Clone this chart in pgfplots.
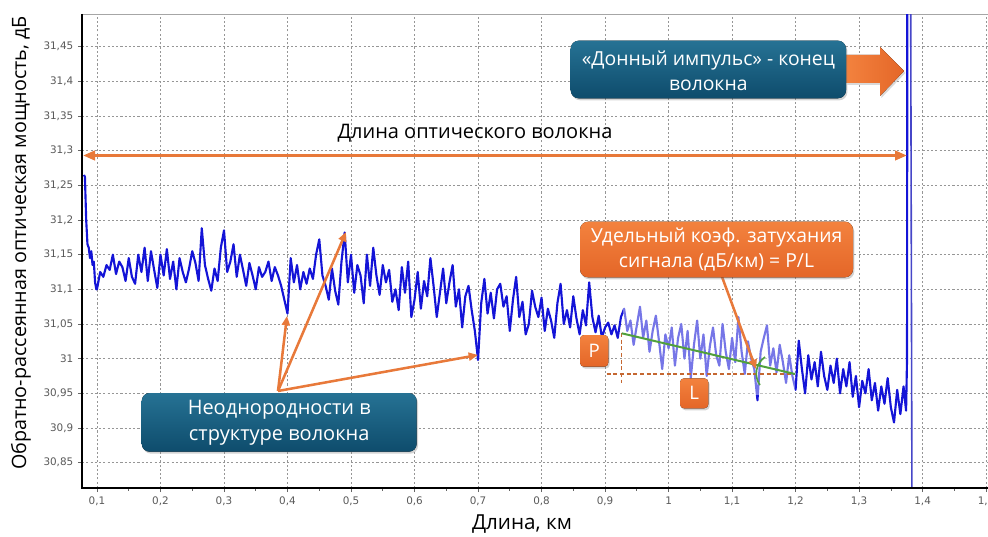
\documentclass[border=0pt]{standalone}
\usepackage{fontspec}
\setmainfont{Open Sans}
\newfontfamily\tickfont{DejaVu Sans}
\usepackage{pgfplots}
\pgfplotsset{compat=1.18}
\usetikzlibrary{arrows.meta,shadows}

\definecolor{trace}{RGB}{20,20,215}
\definecolor{vline}{RGB}{70,70,200}
\definecolor{orng}{RGB}{232,121,58}
\definecolor{orngT}{RGB}{243,130,62}
\definecolor{orngB}{RGB}{228,102,40}
\definecolor{tealT}{RGB}{38,114,148}
\definecolor{tealB}{RGB}{14,76,108}
\definecolor{grn}{RGB}{80,160,60}
\definecolor{gridc}{RGB}{150,150,150}

\begin{document}
\begin{tikzpicture}
\useasboundingbox (0,0) rectangle (741pt,402pt);
\begin{axis}[
  at={(61.5pt,36pt)}, anchor=south west,
  width=679.5pt, height=355.5pt, scale only axis,
  xmin=0.0764, xmax=1.503, ymin=30.8135, ymax=31.497,
  axis line style={draw=gray!70, line width=0.6pt},
  xtick={0.1,0.2,0.3,0.4,0.5,0.6,0.7,0.8,0.9,1.0,1.1,1.2,1.3,1.4,1.5},
  xticklabels={{0,1},{0,2},{0,3},{0,4},{0,5},{0,6},{0,7},{0,8},{0,9},{1},{1,1},{1,2},{1,3},{1,4},{1,5}},
  ytick={30.85,30.9,30.95,31,31.05,31.1,31.15,31.2,31.25,31.3,31.35,31.4,31.45},
  yticklabels={{30,85},{30,9},{30,95},{31},{31,05},{31,1},{31,15},{31,2},{31,25},{31,3},{31,35},{31,4},{31,45}},
  tick label style={font=\tickfont\fontsize{7.8}{9}\selectfont, text=black!65},
  xtick pos=bottom, ytick pos=left, tick align=outside,
  major tick length=3pt, tick style={black!60, line width=0.5pt},
  xminorticks=true, minor x tick num=1, minor tick length=2pt,
  grid=major,
  major grid style={gridc, dash pattern=on 1.6pt off 1.6pt, line width=0.6pt},
  clip=true,
]
\addplot[trace, line width=1.6pt, line join=round] coordinates {
(0.0795,31.265) (0.0810,31.262) (0.0830,31.200) (0.0850,31.165) (0.0870,31.160)
(0.0890,31.145) (0.0910,31.155) (0.0930,31.135) (0.0950,31.140) (0.0970,31.110)
(0.0990,31.100) (0.100,31.100) (0.105,31.125) (0.110,31.118) (0.115,31.135)
(0.120,31.128) (0.125,31.150) (0.130,31.122) (0.135,31.140) (0.140,31.132)
(0.145,31.112) (0.150,31.145) (0.155,31.118) (0.160,31.108) (0.165,31.150)
(0.170,31.125) (0.175,31.160) (0.180,31.112) (0.185,31.155) (0.190,31.128)
(0.195,31.102) (0.200,31.150) (0.205,31.120) (0.210,31.158) (0.215,31.115)
(0.220,31.140) (0.225,31.100) (0.230,31.145) (0.235,31.125) (0.240,31.110)
(0.245,31.130) (0.250,31.155) (0.255,31.138) (0.260,31.112) (0.265,31.188)
(0.270,31.135) (0.275,31.115) (0.280,31.098) (0.285,31.130) (0.290,31.112)
(0.295,31.160) (0.300,31.185) (0.305,31.125) (0.310,31.140) (0.315,31.165)
(0.320,31.118) (0.325,31.150) (0.330,31.128) (0.335,31.105) (0.340,31.138)
(0.345,31.120) (0.350,31.100) (0.355,31.132) (0.360,31.118) (0.365,31.125)
(0.370,31.140) (0.375,31.112) (0.380,31.132) (0.385,31.120) (0.390,31.105)
(0.395,31.085) (0.400,31.065) (0.405,31.145) (0.410,31.110) (0.415,31.135)
(0.420,31.100) (0.425,31.125) (0.430,31.108) (0.435,31.130) (0.440,31.115)
(0.445,31.150) (0.450,31.172) (0.455,31.120) (0.460,31.105) (0.465,31.085)
(0.470,31.130) (0.475,31.098) (0.480,31.078) (0.485,31.140) (0.490,31.182)
(0.495,31.110) (0.500,31.150) (0.505,31.095) (0.510,31.135) (0.515,31.120)
(0.520,31.080) (0.525,31.150) (0.530,31.105) (0.535,31.160) (0.540,31.120)
(0.545,31.092) (0.550,31.135) (0.555,31.110) (0.560,31.128) (0.565,31.082)
(0.570,31.100) (0.575,31.070) (0.580,31.132) (0.585,31.095) (0.590,31.140)
(0.595,31.060) (0.600,31.085) (0.605,31.125) (0.610,31.072) (0.615,31.112)
(0.620,31.090) (0.625,31.145) (0.630,31.105) (0.635,31.060) (0.640,31.095)
(0.645,31.130) (0.650,31.080) (0.655,31.110) (0.660,31.135) (0.665,31.075)
(0.670,31.100) (0.675,31.045) (0.680,31.090) (0.685,31.105) (0.690,31.070)
(0.695,31.040) (0.700,30.998) (0.705,31.080) (0.710,31.115) (0.715,31.065)
(0.720,31.095) (0.725,31.058) (0.730,31.100) (0.735,31.108) (0.740,31.075)
(0.745,31.090) (0.750,31.040) (0.755,31.085) (0.760,31.118) (0.765,31.060)
(0.770,31.082) (0.775,31.035) (0.780,31.050) (0.785,31.098) (0.790,31.075)
(0.795,31.060) (0.800,31.088) (0.805,31.040) (0.810,31.072) (0.815,31.055)
(0.820,31.030) (0.825,31.080) (0.830,31.108) (0.835,31.050) (0.840,31.070)
(0.845,31.045) (0.850,31.090) (0.855,31.058) (0.860,31.035) (0.865,31.070)
(0.870,31.048) (0.875,31.110) (0.880,31.060) (0.885,31.038) (0.890,31.062)
(0.895,31.030) (0.900,31.045) (0.905,31.052) (0.910,31.035) (0.915,31.048)
(0.920,31.030) (0.925,31.060) (0.930,31.072) (0.935,31.040) (0.940,31.055)
(0.945,31.020) (0.950,31.048) (0.955,31.075) (0.960,31.030) (0.965,31.055)
(0.970,31.010) (0.975,31.040) (0.980,31.062) (0.985,31.025) (0.990,30.985)
(0.995,31.035) (1.000,31.015) (1.005,31.045) (1.010,30.990) (1.015,31.030)
(1.020,31.050) (1.025,31.000) (1.030,31.040) (1.035,30.972) (1.040,31.020)
(1.045,31.055) (1.050,31.000) (1.055,31.035) (1.060,30.975) (1.065,31.018)
(1.070,31.045) (1.075,31.005) (1.080,30.990) (1.085,31.050) (1.090,31.010)
(1.095,30.985) (1.100,31.030) (1.105,30.995) (1.110,31.060) (1.115,31.010)
(1.120,30.978) (1.125,31.025) (1.130,31.000) (1.135,30.985) (1.140,30.940)
(1.145,31.010) (1.150,31.030) (1.155,31.048) (1.160,30.990) (1.165,31.015)
(1.170,30.980) (1.175,31.020) (1.180,30.995) (1.185,30.965) (1.190,31.005)
(1.195,30.975) (1.200,30.955) (1.205,31.026) (1.210,30.985) (1.215,30.950)
(1.220,31.005) (1.225,30.970) (1.230,30.995) (1.235,30.960) (1.240,31.010)
(1.245,30.975) (1.250,30.955) (1.255,30.990) (1.260,30.965) (1.265,31.000)
(1.270,30.950) (1.275,30.985) (1.280,30.960) (1.285,30.995) (1.290,30.945)
(1.295,30.975) (1.300,30.930) (1.305,30.968) (1.310,30.950) (1.315,30.985)
(1.320,30.940) (1.325,30.965) (1.330,30.925) (1.335,30.960) (1.340,30.935)
(1.345,30.972) (1.350,30.930) (1.355,30.908) (1.360,30.955) (1.365,30.920)
(1.370,30.960) (1.374,30.925) (1.3755,31.000) (1.3760,31.600)
};
\addplot[vline, line width=1.2pt] coordinates {(1.381,31.6) (1.3835,30.7)};
\end{axis}

\begin{scope}[x=0.75pt, y=-0.75pt, shift={(0pt,402pt)}]
  % axis left and bottom lines
  \draw[black, line width=1.5pt] (82,14) -- (82,488) -- (988,488);
  % fade over the trace
  \fill[white, opacity=0.42] (623,300) rectangle (795,395);
  % green slope line and dashed construction
  \draw[orng!85!black, dash pattern=on 3pt off 2pt, line width=1pt] (606.7,374) -- (795,374);
  \draw[orng!85!black, dash pattern=on 3pt off 2pt, line width=1pt] (621.7,333) -- (621.7,383);
  \draw[grn, line width=1.5pt] (621.7,333.3) -- (795,374);
  \draw[grn, line width=1.2pt] (765,357) .. controls (755,364) and (754,377) .. (760,385);
  % length arrow
  \draw[orng, line width=2.2pt, {Triangle[length=9pt,width=7pt]}-{Triangle[length=9pt,width=7pt]}] (83,155.5) -- (907,155.5);
  \node[black, font=\fontsize{15}{18}\selectfont] at (475,133) {Длина оптического волокна};
  % end-pulse box and block arrow
  \fill[left color=orngT, right color=orngB, drop shadow={opacity=0.3, shadow xshift=1pt, shadow yshift=-1.5pt}]
    (846,55) -- (880,55) -- (880,47) -- (904,71) -- (880,96) -- (880,83) -- (846,83) -- cycle;
  \fill[rounded corners=6pt, top color=tealT, bottom color=tealB, drop shadow={opacity=0.35, shadow xshift=1pt, shadow yshift=-1.5pt}]
    (570.7,40.7) rectangle (846,98.3);
  \node[white, font=\fontsize{14.5}{18.75}\selectfont, align=center] at (708.3,70.5) {«Донный импульс» - конец\\волокна};
  % inhomogeneity box and arrows
  \draw[orng, line width=1.9pt, -{Triangle[length=7pt,width=6pt]}] (278,391) -- (287,316);
  \draw[orng, line width=1.9pt, -{Triangle[length=7pt,width=6pt]}] (278,391) -- (346,232);
  \draw[orng, line width=1.9pt, -{Triangle[length=7pt,width=6pt]}] (278,391) -- (478,355);
  \fill[rounded corners=6pt, top color=tealT, bottom color=tealB, drop shadow={opacity=0.35, shadow xshift=1pt, shadow yshift=-1.5pt}]
    (141.7,393) rectangle (416.7,451.7);
  \node[white, font=\fontsize{15}{19.5}\selectfont, align=center] at (279.2,423) {Неоднородности в\\структуре волокна};
  % attenuation box and arrow
  \draw[orng, line width=1.9pt, -{Triangle[length=7pt,width=6pt]}] (721.7,276) -- (756,369);
  \fill[rounded corners=6pt, top color=orngT, bottom color=orngB, drop shadow={opacity=0.35, shadow xshift=1pt, shadow yshift=-1.5pt}]
    (580,221.7) rectangle (853,277.3);
  \node[white, font=\fontsize{14.5}{18.75}\selectfont, align=center] at (716.5,249.5) {Удельный коэф. затухания\\сигнала (дБ/км) = P/L};
  % P and L boxes
  \fill[rounded corners=3pt, top color=orngT, bottom color=orngB, drop shadow={opacity=0.35, shadow xshift=1pt, shadow yshift=-1.5pt}]
    (580,335) rectangle (608.3,366.7);
  \node[white, font=\fontsize{14}{16}\selectfont] at (594.2,350.8) {P};
  \fill[rounded corners=3pt, top color=orngT, bottom color=orngB, drop shadow={opacity=0.35, shadow xshift=1pt, shadow yshift=-1.5pt}]
    (680,378.3) rectangle (708.3,408.3);
  \node[white, font=\fontsize{14}{16}\selectfont] at (694.2,393.3) {L};
  % axis labels
  \node[black, rotate=90, font=\fontsize{14.8}{18}\selectfont] at (21,243) {Обратно-рассеянная оптическая мощность, дБ};
  \node[black, font=\fontsize{15.5}{18}\selectfont] at (522,524) {Длина, км};
\end{scope}
\end{tikzpicture}
\end{document}
